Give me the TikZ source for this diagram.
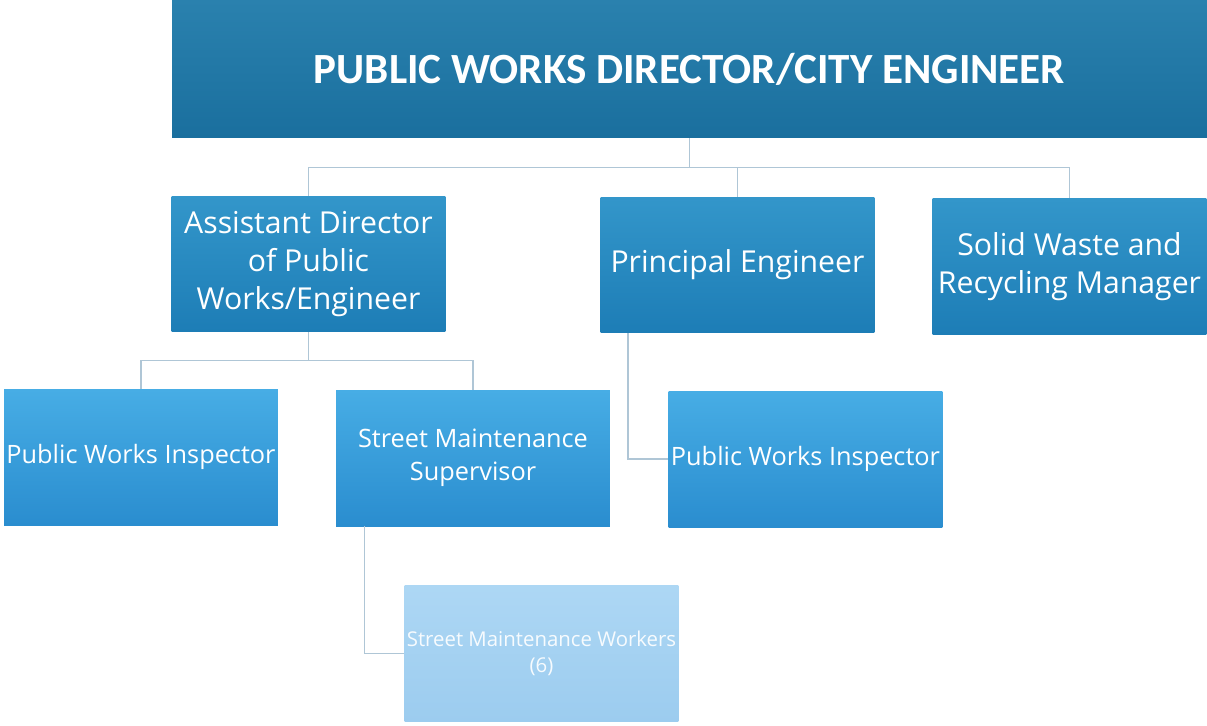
\documentclass[tikz,border=0pt]{standalone}
\usepackage{fontspec}
\setmainfont{Open Sans}
\newfontfamily\headfont{Carlito}
\usetikzlibrary{positioning}

\definecolor{headtop}{HTML}{2A81AE}
\definecolor{headbot}{HTML}{1A6F9E}
\definecolor{midtop}{HTML}{3396CA}
\definecolor{midbot}{HTML}{1D7DB6}
\definecolor{lowtop}{HTML}{47ADE5}
\definecolor{lowbot}{HTML}{2A8DCF}
\definecolor{paletop}{HTML}{ADD7F4}
\definecolor{palebot}{HTML}{9CCCEF}
\definecolor{linkcol}{HTML}{AFC6D6}

\begin{document}
\begin{tikzpicture}[x=0.02cm,y=-0.02cm,
  box/.style={rectangle,minimum width=5.48cm,minimum height=2.72cm,inner sep=0pt,
    align=center,text=white,font=\fontsize{14.4}{19}\selectfont},
  head/.style={box,minimum width=20.7cm,minimum height=2.76cm,top color=headtop,bottom color=headbot,
    font=\headfont\bfseries\fontsize{24.5}{30}\selectfont},
  mid/.style={box,top color=midtop,bottom color=midbot,font=\fontsize{17.2}{21.5}\selectfont},
  low/.style={box,top color=lowtop,bottom color=lowbot},
  pale/.style={box,top color=paletop,bottom color=palebot,text=white!90!paletop,
    font=\fontsize{11.6}{15}\selectfont},
  link/.style={draw=linkcol,line width=0.8pt}]

    \useasboundingbox (0,0) rectangle (1207,725);

    % The chart
	\node [head] at (689.5,69) (dir) {PUBLIC WORKS DIRECTOR/CITY ENGINEER};

	\node [mid] at (308.5,264) (asst) {Assistant Director\\of Public\\Works/Engineer};
	\node [mid] at (737.5,265) (princ) {Principal Engineer};
	\node [mid] at (1069.5,266.5) (waste) {Solid Waste and\\Recycling Manager};

	\node [low] at (141,457) (insp1) {Public Works Inspector};
	\node [low] at (473,458) (super) {Street Maintenance\\Supervisor};
	\node [low] at (805.5,459) (insp2) {Public Works Inspector};

	\node [pale] at (541.5,653.5) (crew) {Street Maintenance Workers\\(6)};

	% Chart lines
	\draw [link] (dir.south) -- ++(0,29) -| (asst.north);
	\draw [link] (dir.south) -- ++(0,29) -| (princ.north);
	\draw [link] (dir.south) -- ++(0,29) -| (waste.north);

	\draw [link] (asst.south) -- ++(0,28) -| (insp1.north);
	\draw [link] (asst.south) -- ++(0,28) -| (super.north);

	\draw [link] ([xshift=0.56cm]princ.south west) |- (insp2.west);
	\draw [link] ([xshift=0.58cm]super.south west) |- (crew.west);

\end{tikzpicture}
\end{document}
